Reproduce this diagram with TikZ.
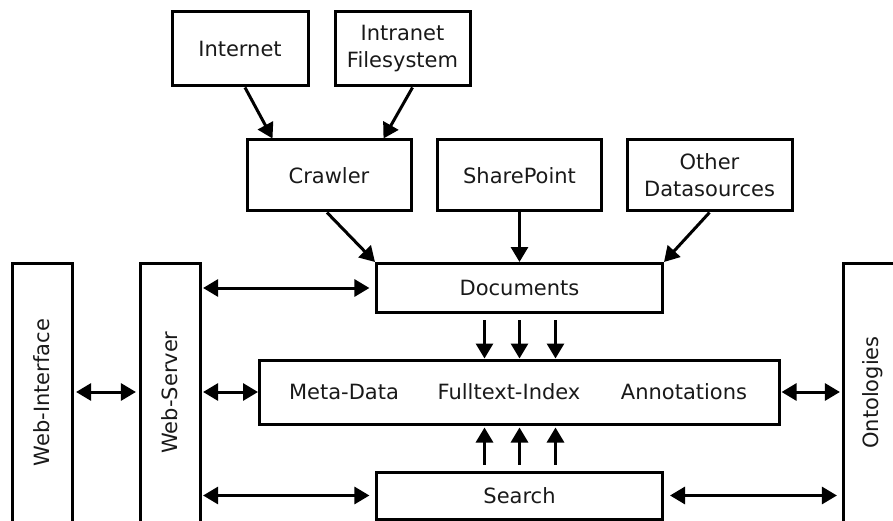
\documentclass[tikz,border=0pt]{standalone}
\usepackage{fontspec}
\usepackage{graphicx}
\setmainfont{DejaVu Sans}
\usetikzlibrary{arrows.meta,calc}

\begin{document}
\begin{tikzpicture}[x=1pt,y=-1pt,
  txt/.style={font=\fontsize{21}{27}\selectfont, text=black!90},
  box/.style={draw, line width=3pt, rectangle, inner sep=0pt, align=center, txt},
  tall/.style={box, minimum width=60, minimum height=259},
  head/.tip={Triangle[length=15pt,width=17pt]},
  arr/.style={line width=3pt, -head},
  darr/.style={line width=3pt, head-head},
]
\clip (0,0) rectangle (893,521);

% sources
\node[box, minimum width=136, minimum height=74] (internet) at (240,49) {Internet};
\node[box, minimum width=135, minimum height=74] (intranet) at (402.5,49) {Intranet\\Filesystem};
\node[box, minimum width=164, minimum height=71] (crawler) at (329,175.5) {Crawler};
\node[box, minimum width=164, minimum height=71] (sharepoint) at (519.5,175.5) {SharePoint};
\node[box, minimum width=165, minimum height=71] (other) at (709.5,175.5) {Other\\Datasources};

% central stores
\node[box, minimum width=286, minimum height=49] (documents) at (519.5,288) {Documents};
\node[box, minimum width=520, minimum height=64] (meta) at (519.5,392) {};
\node[txt] (metadata) at (344,392) {Meta-Data};
\node[txt] (fulltext) at (509,392) {Fulltext-Index};
\node[txt] (annotations) at (684,392) {Annotations};
\node[box, minimum width=286, minimum height=47] (search) at (519.5,495.5) {Search};

% side columns
\node[tall] (webinterface) at (42,392.5) {\rotatebox{90}{Web-Interface}};
\node[tall] (webserver) at (170,392.5) {\rotatebox{90}{Web-Server}};
\node[tall] (ontologies) at (873,392.5) {\rotatebox{90}{Ontologies}};

% feeding the crawler
\draw[arr] ($(internet.south)+(5,0)$) -- ($(crawler.north west)+(27,0)$);
\draw[arr] ($(intranet.south)+(10,0)$) -- ($(crawler.north east)+(-29,0)$);

% sources into documents
\draw[arr] ($(crawler.south)+(-2,0)$) -- (documents.north west);
\draw[arr] (sharepoint.south) -- (documents.north);
\draw[arr] (other.south) -- (documents.north east);

% documents to index, search to index
\foreach \d in {-35,0,36} {
  \draw[arr] ($(documents.south)+(\d,6)$) -- ($(meta.north)+(\d,0)$);
  \draw[arr] ($(search.north)+(\d,-6)$) -- ($(meta.south)+(\d,2)$);
}

% two-way links
\draw[darr, shorten <=1.6pt, shorten >=5.6pt] (webserver.east |- documents.west) -- (documents.west);
\draw[darr, shorten <=2.6pt, shorten >=2.6pt] (webinterface.east |- meta.west) -- (webserver.west |- meta.west);
\draw[darr, shorten <=1.6pt] (webserver.east |- meta.west) -- (meta.west);
\draw[darr, shorten <=1.6pt, shorten >=5.6pt] (webserver.east |- search.west) -- (search.west);
\draw[darr, shorten <=0.6pt, shorten >=1.6pt] (meta.east) -- (ontologies.west |- meta.east);
\draw[darr, shorten <=6pt, shorten >=4.6pt] (search.east) -- (ontologies.west |- search.east);
\end{tikzpicture}
\end{document}
